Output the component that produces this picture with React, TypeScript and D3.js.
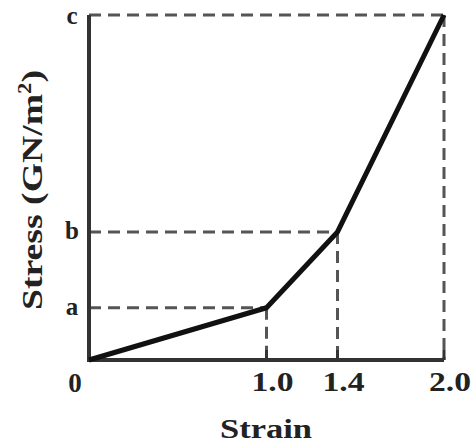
import React, { useEffect, useRef } from 'react';
import * as d3 from 'd3';

const strain = [0, 1.0, 1.4, 2.0];
const stress = [0, 1, 2.45, 6.6];
const xTickLabels = ['1.0', '1.4', '2.0'];
const yTickLabels = ['a', 'b', 'c'];

const App = () => {
  const ref = useRef<SVGSVGElement>(null);

  useEffect(() => {
    const svg = d3.select(ref.current);
    svg.selectAll('*').remove();
    const font = '"Liberation Serif", "DejaVu Serif", serif';

    const x = d3.scaleLinear().domain([0, 2.0]).range([89, 444]);
    const y = d3.scaleLinear().domain([0, 6.6]).range([360, 15]);
    const pts = strain.map((s, i) => ({ s, v: stress[i] }));

    // dashed guide lines
    const g = svg.append('g').attr('stroke', '#555').attr('stroke-width', 3).attr('stroke-dasharray', '12,7');
    pts.slice(1).forEach(p => {
      g.append('line').attr('x1', x(0)).attr('x2', x(p.s)).attr('y1', y(p.v)).attr('y2', y(p.v));
      g.append('line').attr('x1', x(p.s)).attr('x2', x(p.s)).attr('y1', y(p.v)).attr('y2', y(0));
    });

    // axes
    svg.append('path')
      .attr('d', `M${x(0)},${y(6.6)} V${y(0)} H${x(2.0)}`)
      .attr('fill', 'none').attr('stroke', '#333').attr('stroke-width', 4);
    svg.selectAll('.xt').data(strain.slice(1)).enter().append('line')
      .attr('x1', d => x(d)).attr('x2', d => x(d)).attr('y1', y(0) - 10).attr('y2', y(0))
      .attr('stroke', '#333').attr('stroke-width', 3);

    // curve
    svg.append('path')
      .attr('d', d3.line<any>().x(d => x(d.s)).y(d => y(d.v))(pts))
      .attr('fill', 'none').attr('stroke', '#111').attr('stroke-width', 5).attr('stroke-linejoin', 'round');

    // tick labels
    svg.selectAll('.xl').data(xTickLabels).enter().append('text')
      .attr('x', (d, i) => x(strain[i + 1]) + 6).attr('y', 391)
      .attr('text-anchor', 'middle').attr('font-family', font).attr('font-weight', 'bold')
      .attr('font-size', 27).attr('textLength', 42).attr('lengthAdjust', 'spacingAndGlyphs')
      .attr('fill', '#222').text(d => d);
    svg.selectAll('.yl').data(yTickLabels).enter().append('text')
      .attr('x', 72).attr('y', (d, i) => Math.max(y(stress[i + 1]) + 7, 24))
      .attr('text-anchor', 'middle').attr('font-family', font).attr('font-weight', 'bold')
      .attr('font-size', 25).attr('fill', '#222').text(d => d);
    svg.append('text').attr('x', 75).attr('y', 392).attr('text-anchor', 'middle')
      .attr('font-family', font).attr('font-weight', 'bold').attr('font-size', 27).attr('fill', '#222').text('0');

    // axis titles
    svg.append('text').attr('x', 266).attr('y', 438).attr('text-anchor', 'middle')
      .attr('font-family', font).attr('font-weight', 'bold').attr('font-size', 28)
      .attr('textLength', 92).attr('lengthAdjust', 'spacingAndGlyphs').attr('fill', '#222').text('Strain');
    const yt = svg.append('text').attr('transform', 'translate(42,190) rotate(-90)').attr('text-anchor', 'middle')
      .attr('font-family', font).attr('font-weight', 'bold').attr('font-size', 30)
      .attr('textLength', 240).attr('lengthAdjust', 'spacingAndGlyphs').attr('fill', '#222');
    yt.append('tspan').text('Stress (GN/m');
    yt.append('tspan').attr('dy', -11).attr('font-size', 18).text('2');
    yt.append('tspan').attr('dy', 11).text(')');
  }, []);

  return (
    <svg ref={ref} width={472} height={443} style={{ position: 'absolute', left: 0, top: 0, background: '#fff' }} />
  );
};

export default App;
